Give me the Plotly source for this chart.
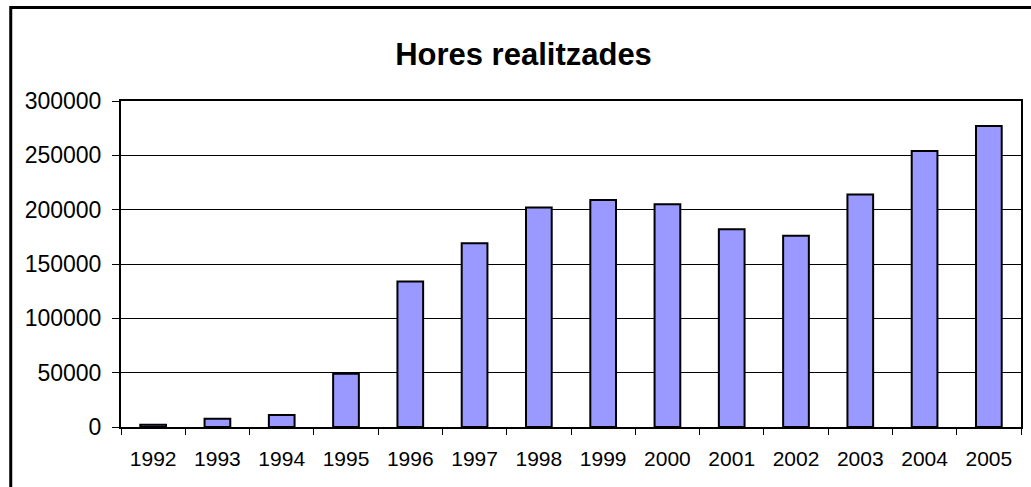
import plotly.graph_objects as go

years = ["1992", "1993", "1994", "1995", "1996", "1997", "1998",
         "1999", "2000", "2001", "2002", "2003", "2004", "2005"]
hours = [2000, 7500, 11000, 49000, 134000, 169000, 202000,
         209000, 205000, 182000, 176000, 214000, 254000, 277000]
y_ticks = [0, 50000, 100000, 150000, 200000, 250000, 300000]
title_text = "Hores realitzades"

W, H = 1031, 487
L, R, T, B = 121, 8, 101, 60
pw, ph = W - L - R, H - T - B

fig = go.Figure(go.Bar(
    x=years, y=hours,
    marker=dict(color="#9999FF", line=dict(color="black", width=2)),
))

font = "Liberation Sans, Arial, sans-serif"

fig.update_layout(
    width=W, height=H,
    margin=dict(l=L, r=R, t=T, b=B, pad=0),
    paper_bgcolor="white", plot_bgcolor="white",
    bargap=0.6,
    showlegend=False,
    title=dict(text="<b>" + title_text + "</b>", x=523.5 / W, xanchor="center",
               xref="container", y=1 - 54 / H, yanchor="middle",
               yref="container",
               font=dict(family=font, size=31, color="black")),
    font=dict(family=font, color="black"),
)

fig.update_xaxes(
    type="category",
    showline=True, linecolor="black", linewidth=2, mirror=True,
    ticks="outside", tickson="boundaries", ticklen=6, tickcolor="black",
    tickwidth=1, showgrid=False,
    tickfont=dict(family=font, size=21, color="black"),
    ticklabelstandoff=12,
)
fig.update_yaxes(
    range=[0, 300000],
    tickvals=y_ticks, ticktext=[str(v) for v in y_ticks],
    showline=True, linecolor="black", linewidth=2, mirror=True,
    ticks="outside", ticklen=7, tickcolor="black", tickwidth=1,
    showgrid=True, gridcolor="black", gridwidth=1, zeroline=False,
    tickfont=dict(family=font, size=23, color="black"),
    ticklabelstandoff=6,
)

# outer chart frame
fig.add_shape(type="rect", xref="paper", yref="paper",
              x0=(10.5 - L) / pw, x1=(W + 40 - L) / pw,
              y0=-0.4, y1=(H - B - 7.5) / ph,
              line=dict(color="black", width=3), fillcolor="rgba(0,0,0,0)",
              layer="above")

fig.write_html("out.html",
               config={"displayModeBar": False},
               post_script="document.body.style.margin='0';"
                           "document.body.style.overflow='hidden';")
